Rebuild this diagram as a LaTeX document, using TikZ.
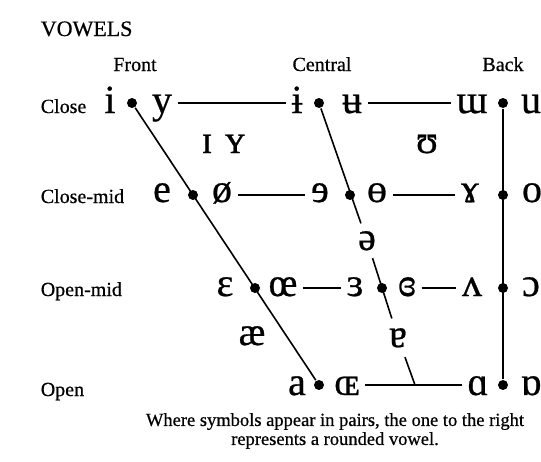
\documentclass[tikz,border=0pt]{standalone}
\usepackage{fontspec}
\setmainfont{Liberation Serif}[FakeBold=0.6]
\newfontfamily\ipafont{Liberation Serif}[FakeBold=0.6]
\begin{document}
\begin{tikzpicture}[x=1pt, y=-1pt, line width=1.6pt,
  dot/.style={circle, fill, inner sep=0pt, minimum size=10pt},
  sym/.style={anchor=base, inner sep=5pt, font=\ipafont\fontsize{40}{40}\selectfont},
  gapsym/.style={sym, inner sep=7pt},
  lbl/.style={anchor=base west, inner sep=0pt, font=\fontsize{20}{20}\selectfont},
  colhead/.style={anchor=base, inner sep=0pt, font=\fontsize{20}{20}\selectfont}]
\useasboundingbox (0,0) rectangle (541,461);

% Titulos
\node[anchor=base west, inner sep=0pt, font=\fontsize{22}{22}\selectfont] (title) at (40,36) {VOWELS};
\foreach \n/\x/\t in {front/135/Front, central/322/Central, back/503/Back}
  \node[colhead] (\n) at (\x,71) {\t};
\foreach \n/\y/\t in {close/113/Close, closemid/203/Close-mid, openmid/296/Open-mid, open/396/Open}
  \node[lbl] (\n) at (40,\y) {\t};

% Puntos
\foreach \n/\x/\y in {closeF/132/103, closeC/319/103, closeB/503/103,
                      cmidF/193/195, cmidC/350/195, cmidB/503/195,
                      omidF/255/288, omidC/382/288, omidB/503/288,
                      openF/319/385, openB/503/385}
  \node[dot] (\n) at (\x,\y) {};
\coordinate (openC) at (415,385);

% Simbolos
\foreach \n/\x/\y/\s in {i/110/113/i, y/162/113/y, ibar/297/113/ɨ, ubar/352/113/ʉ, turnm/472/113/ɯ, u/531/113/u,
                         smallI/207/153/ɪ, smallY/235/153/ʏ, upsilon/427/153/ʊ,
                         e/162/202/e, oslash/222/202/ø, reve/320/202/ɘ, obar/377/202/ɵ, ramshorn/470/202/ɤ, o/532/202/o,
                         epsilon/225/296/ɛ, oe/283/296/œ, revepsilon/355/296/ɜ, crevepsilon/407/296/ɞ, turnv/472/296/ʌ, openo/531/296/ɔ,
                         ae/252/345/æ,
                         a/297/395/a, smallOE/347/395/ɶ, alpha/478/395/ɑ, turnalpha/531/395/ɒ}
  \node[sym] (\n) at (\x,\y) {\s};
\node[gapsym] (schwa) at (367,250) {ə};
\node[gapsym, inner ysep=9pt] (turna) at (398,347) {ɐ};

% Lineas
\draw (closeF) -- (openF);
\draw (closeB) -- (openB);
\draw (closeC) -- (schwa);
\draw (schwa) -- (turna);
\draw (turna) -- (openC);
\draw (y.east |- closeF) -- (ibar.west |- closeF);
\draw (ubar.east |- closeF) -- (turnm.west |- closeF);
\draw (oslash.east |- cmidF) -- (reve.west |- cmidF);
\draw (obar.east |- cmidF) -- (ramshorn.west |- cmidF);
\draw (oe.east |- omidF) -- (revepsilon.west |- omidF);
\draw (crevepsilon.east |- omidF) -- (turnv.west |- omidF);
\draw (smallOE.east |- openF) -- (alpha.west |- openF);

\node[font=\fontsize{18.5}{19}\selectfont, align=center] (note) at (335,431)
  {Where symbols appear in pairs, the one to the right\\represents a rounded vowel.};
\end{tikzpicture}
\end{document}
